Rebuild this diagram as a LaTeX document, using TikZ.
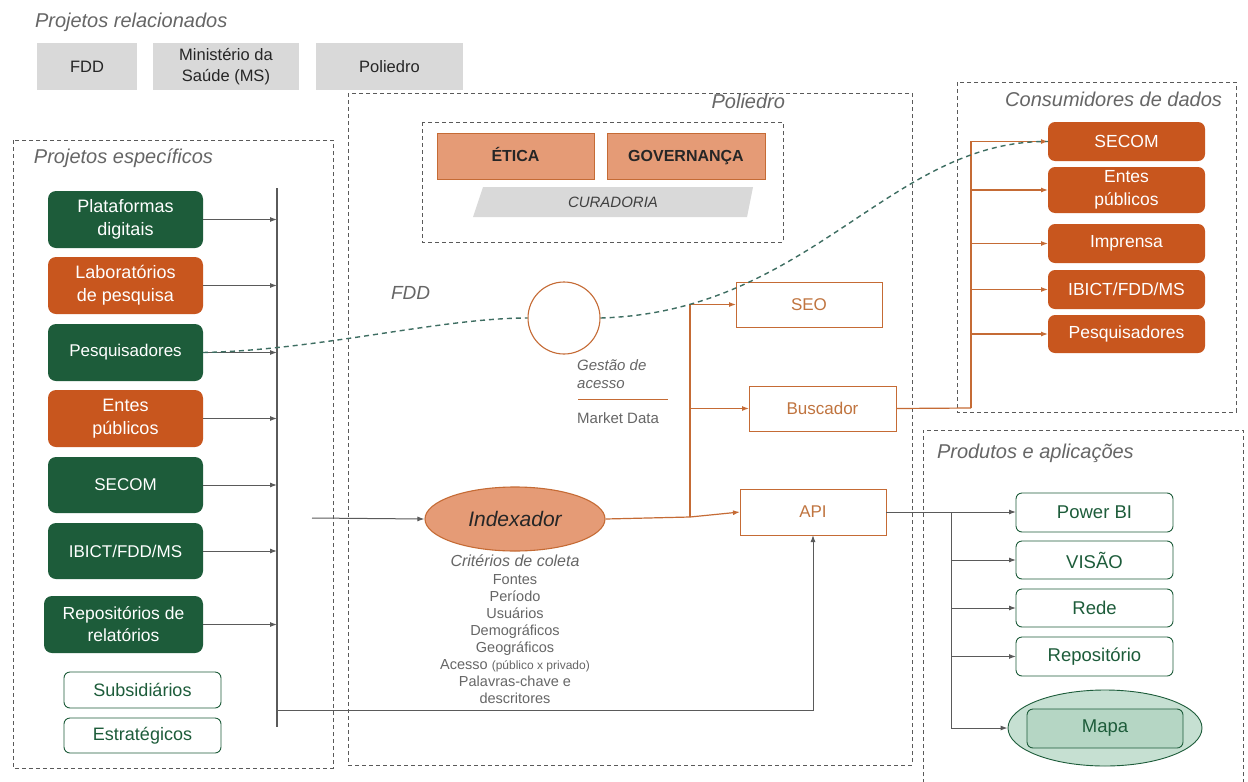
\documentclass[tikz,border=0pt]{standalone}
\usepackage{fontspec}
\setmainfont{Liberation Sans}
\usetikzlibrary{shapes.geometric,arrows.meta,backgrounds}
\definecolor{dgreen}{HTML}{1D5C3A}
\definecolor{dorange}{HTML}{C8561E}
\definecolor{salmon}{HTML}{E59B76}
\definecolor{oline}{HTML}{C56B35}
\definecolor{otext}{HTML}{C0743F}
\definecolor{gtext}{HTML}{666666}
\definecolor{lgray}{HTML}{D9D9D9}
\definecolor{tealc}{HTML}{3E6E62}
\definecolor{lgreen}{HTML}{C6E0D2}
\definecolor{mgreen}{HTML}{B5D6C4}
\definecolor{dline}{HTML}{5A5A5A}
\newcommand\fs[2]{\fontsize{#1}{#2}\selectfont}
\newcommand\bx[7]{\node[#6, minimum width=#4pt-#2pt, minimum height=#5pt-#3pt] (#1) at ({(#2+#4)/2},{(#3+#5)/2}) {#7};}
\tikzset{
  base/.style={rectangle, inner sep=0pt, outer sep=0pt, align=center},
  graybox/.style={base, fill=lgray, text=black!85, font=\fs{16.5}{21}},
  gbox/.style={base, fill=dgreen, rounded corners=8pt, text=white, font=\fs{18}{23}},
  obox/.style={base, fill=dorange, rounded corners=8pt, text=white, font=\fs{18}{23}},
  wbox/.style={base, draw=dgreen, line width=0.9pt, fill=white, rounded corners=6pt, text=dgreen, font=\fs{18}{23}},
  cbox/.style={base, fill=dorange, rounded corners=7pt, text=white, font=\fs{17.5}{23}},
  pbox/.style={base, draw=dgreen, line width=0.9pt, fill=white, rounded corners=6pt, text=dgreen, font=\fs{18.5}{23}},
  sbox/.style={base, draw=oline, line width=1pt, fill=white, text=otext, font=\fs{17}{21}},
  ebox/.style={base, draw=oline, line width=1pt, fill=salmon, text=black!85, font=\bfseries\fs{16}{21}, text height=12pt, text depth=1pt},
  cont/.style={draw=dline, dashed, dash pattern=on 4pt off 3pt, line width=0.8pt},
  lab/.style={inner sep=0pt, outer sep=0pt, text=gtext, font=\itshape\fs{20}{24}},
  garr/.style={draw=dline, line width=1pt, -{Latex[length=7pt,width=5pt]}},
  gln/.style={draw=dline, line width=1pt},
  oarr/.style={draw=oline, line width=1.2pt, -{Latex[length=7pt,width=5pt]}},
  oln/.style={draw=oline, line width=1.2pt},
  tdash/.style={draw=tealc, line width=1.4pt, dash pattern=on 5pt off 4pt},
}
\begin{document}
\begin{tikzpicture}[x=1pt,y=-1pt]
\useasboundingbox (0,0) rectangle (1248,782);
\fill[white] (0,0) rectangle (1248,782);

% ---------- related projects
\node[lab, anchor=base west] (trel) at (35,27) {Projetos relacionados};
\bx{rfdd}{37}{43}{137}{90}{graybox}{FDD}
\bx{rms}{153}{43}{299}{90}{graybox}{Ministério da\\Saúde (MS)}
\bx{rpol}{316}{43}{463}{90}{graybox}{Poliedro}

% ---------- containers
\draw[cont] (13,140) rectangle (333,768);
\node[lab, anchor=base west] (tesp) at (34,163) {Projetos específicos};
\draw[cont] (348,93) rectangle (912,765);
\node[lab, anchor=base east] (tpol) at (785,108) {Poliedro};
\draw[cont] (422,122) rectangle (783,242);
\draw[cont] (957,82) rectangle (1236,412);
\node[lab, anchor=base east] (tcons) at (1222,106) {Consumidores de dados};
\draw[cont] (923,790) -- (923,430) -- (1243,430) -- (1243,790);
\node[lab, anchor=base west] (tprod) at (937,458) {Produtos e aplicações};

% ---------- left boxes
\bx{pa}{48}{191}{203}{248}{gbox}{Plataformas\\digitais}
\bx{pb}{48}{257}{203}{314}{obox}{Laboratórios\\de pesquisa}
\bx{pq}{48}{324}{203}{381}{gbox,font=\fs{17}{21}}{Pesquisadores}
\bx{pd}{48}{390}{203}{447}{obox}{Entes\\públicos}
\bx{pe}{48}{457}{203}{513}{gbox,font=\fs{17}{21}}{SECOM}
\bx{pf}{48}{523}{203}{579}{gbox,font=\fs{17}{21}}{IBICT/FDD/MS}
\bx{pg}{44}{596}{203}{653}{gbox,font=\fs{17.5}{22}}{Repositórios de\\relatórios}
\bx{ph}{64}{672}{221}{708}{wbox}{Subsidiários}
\bx{pi}{64}{718}{221}{753}{wbox}{Estratégicos}

% bar
\coordinate (bt) at (277,188);
\coordinate (bb) at (277,727);
\draw[draw=dline, line width=2.4pt] (bt) -- (bb);
\foreach \n in {pa,pb,pq,pd,pe,pf,pg}
  \draw[garr] (\n.east) -- (\n.east -| bt);

% ---------- governance
\bx{eti}{437}{133}{594}{179}{ebox}{ÉTICA}
\bx{gov}{607}{133}{765}{179}{ebox}{GOVERNANÇA}
\fill[lgray] (483,187) -- (753,187) -- (747,217) -- (473,217) -- cycle;
\node[inner sep=0pt, text=black!75, font=\itshape\fs{15}{18}] (cur) at (613,202) {CURADORIA};

\node[lab, anchor=base west, font=\itshape\fs{19}{23}] (tfdd) at (391,299) {FDD};

% circle and indexador
\node[circle, draw=oline, fill=white, line width=1.1pt, minimum size=72pt, inner sep=0pt] (gc) at (564,318) {};
\node[ellipse, draw=oline, fill=salmon, line width=1.1pt, minimum width=180pt, minimum height=64pt, inner sep=0pt, font=\itshape\fs{21}{24}, text=black!85] (idx) at (515,519) {Indexador};

\begin{pgfonlayer}{background}
\draw[oln] ([xshift=11pt]eti.south west) -- ([xshift=11pt]eti.south west |- idx.center);
\draw[oln] ([xshift=19pt]eti.south west) -- ([xshift=19pt]eti.south west |- idx.center);
\draw[oln] (gc.south) -- (gc.south |- idx.center);
\draw[oln] ([xshift=6pt]gc.south) -- ([xshift=6pt]gc.south |- idx.center);
\end{pgfonlayer}

\node[anchor=west, inner sep=0pt, align=left, text=gtext, font=\itshape\fs{15}{18}] (tgest) at (577,374) {Gestão de\\acesso};
\draw[oln, line width=1pt] (578,399) -- (668,399);
\node[anchor=west, inner sep=0pt, text=gtext, font=\fs{15}{18}] (tmkt) at (577,418) {Market Data};

\node[anchor=north, inner sep=0pt, align=center, text=gtext, font=\fs{14.5}{17.1}] (crit) at (515,555)
 {{\itshape\fs{16}{17.1}Critérios de coleta}\\Fontes\\Período\\Usuários\\Demográficos\\Geográficos\\Acesso {\fs{12}{17.1}(público x privado)}\\Palavras-chave e\\descritores};

\coordinate (ins) at (312,518);
\draw[garr] (ins) -- (idx.west);

% outputs
\bx{seo}{736}{282}{882}{327}{sbox}{SEO}
\bx{bus}{749}{386}{896}{431}{sbox}{Buscador}
\bx{api}{740}{489}{886}{535}{sbox}{API}

\coordinate (j1) at (690,517);
\draw[oln] (idx.east) -- (j1);
\draw[oarr] (j1) |- (seo.west);
\draw[oarr] (j1) |- (bus.west);
\draw[oarr] (j1) -- (api.west);

% bottom feed to API
\coordinate (jb) at (277,710);
\draw[garr] (jb) -| (api.south);

% consumers
\bx{c1}{1048}{122}{1205}{161}{cbox}{SECOM}
\bx{c2}{1048}{167}{1205}{213}{cbox}{Entes\\públicos}
\bx{c3}{1048}{224}{1205}{263}{cbox}{Imprensa}
\bx{c4}{1048}{270}{1205}{309}{cbox}{IBICT/FDD/MS}
\bx{c5}{1048}{315}{1205}{353}{cbox}{Pesquisadores}
\coordinate (j2) at (971,408);
\draw[oln] (bus.east) -- (j2);
\foreach \n in {c1,c2,c3,c4,c5}
  \draw[oarr] (j2) |- (\n.west);

% products
\bx{q1}{1016}{493}{1173}{532}{pbox}{Power BI}
\bx{q2}{1016}{541}{1173}{579}{pbox}{VISÃO}
\bx{q3}{1016}{589}{1173}{627}{pbox}{Rede}
\bx{q4}{1016}{637}{1173}{676}{pbox}{Repositório}
\node[ellipse, draw=dgreen, fill=lgreen, line width=0.9pt, minimum width=194pt, minimum height=76pt, inner sep=0pt] (mapa) at (1105,728) {};
\bx{mapin}{1027}{709}{1183}{748}{pbox,fill=mgreen}{Mapa}
\coordinate (j3) at (951,512);
\draw[gln] (api.east) -- (j3);
\draw[garr] (j3) -- (j3 -| q1.west);
\draw[gln] (j3) -- (j3 |- mapa.west);
\foreach \n in {q2,q3,q4}
  \draw[garr] (j3 |- \n.west) -- (\n.west);
\draw[garr] (j3 |- mapa.west) -- (mapa.west);

% dashed teal flow
\draw[tdash] (pq.east) .. controls (320,350) and (440,318) .. (gc.west);
\draw[tdash] (gc.east) .. controls (810,312) and (890,140) .. (c1.west);
\end{tikzpicture}
\end{document}
